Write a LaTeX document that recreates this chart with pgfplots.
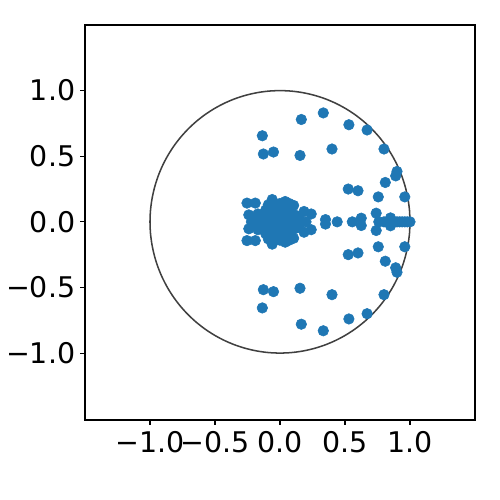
\documentclass[border=0pt]{standalone}
\usepackage{fontspec}
\setmainfont{DejaVu Sans}
\usepackage{pgfplots}
\pgfplotsset{compat=1.18}
\definecolor{mplblue}{HTML}{1F77B4}

\begin{document}
\begin{tikzpicture}
\begin{axis}[
  scale only axis, width=280.8pt, height=284.4pt,
  xmin=-1.5, xmax=1.5, ymin=-1.51, ymax=1.5,
  axis line style={line width=0.8pt},
  tick align=outside, tick pos=lower,
  major tick length=3.5pt,
  every tick/.style={black, line width=0.8pt},
  xtick={-1,-0.5,0,0.5,1}, ytick={-1,-0.5,0,0.5,1},
  xticklabels={−1.0,−0.5,0.0,0.5,1.0},
  yticklabels={−1.0,−0.5,0.0,0.5,1.0},
  ticklabel style={font=\fontsize{20.5}{24}\selectfont},
  xticklabel style={yshift=-1pt},
  clip=false,
]
% eigenvalues, upper half, real axis, lower half
\addplot[only marks, mark=*, mark size=3.8pt, mark options={solid, draw=mplblue, fill=mplblue}] table {
x y
0.333 0.83
0.164 0.78
0.53 0.74
0.67 0.70
-0.136 0.656
-0.128 0.517
-0.05 0.532
0.154 0.506
0.40 0.555
0.80 0.555
0.90 0.384
0.89 0.35
0.81 0.30
0.525 0.25
0.60 0.237
0.756 0.19
0.96 0.19
0.74 0.066
0.625 0.028
0.85 0.03
0.35 0.017
-0.254 0.143
-0.19 0.143
-0.06 0.17
0.04 0.155
0.0 0.14
0.07 0.14
0.105 0.125
-0.24 0.053
-0.17 0.06
-0.11 0.09
-0.04 0.10
0.03 0.10
0.08 0.08
0.12 0.05
0.185 0.079
0.24 0.06
-0.2 0.02
-0.13 0.03
-0.08 0.05
-0.02 0.04
0.02 0.06
0.06 0.03
0.10 0.02
0.15 0.02
-0.09 0.13
0.44 0
0.556 0
0.76 0
0.80 0
0.83 0
0.86 0
0.88 0
0.90 0
0.92 0
0.94 0
0.96 0
0.98 0
1.0 0
-0.22 0
-0.15 0
-0.10 0
-0.06 0
0.0 0
0.04 0
0.08 0
0.13 0
0.20 0
0.333 -0.83
0.164 -0.78
0.53 -0.74
0.67 -0.70
-0.136 -0.656
-0.128 -0.517
-0.05 -0.532
0.154 -0.506
0.40 -0.555
0.80 -0.555
0.90 -0.384
0.89 -0.35
0.81 -0.30
0.525 -0.25
0.60 -0.237
0.756 -0.19
0.96 -0.19
0.74 -0.066
0.625 -0.028
0.85 -0.03
0.35 -0.017
-0.254 -0.143
-0.19 -0.143
-0.06 -0.17
0.04 -0.155
0.0 -0.14
0.07 -0.14
0.105 -0.125
-0.24 -0.053
-0.17 -0.06
-0.11 -0.09
-0.04 -0.10
0.03 -0.10
0.08 -0.08
0.12 -0.05
0.185 -0.079
0.24 -0.06
-0.2 -0.02
-0.13 -0.03
-0.08 -0.05
-0.02 -0.04
0.02 -0.06
0.06 -0.03
0.10 -0.02
0.15 -0.02
-0.09 -0.13
};
% unit circle
\addplot[smooth, black!75, line width=1.1pt] table {
x y
1 0
0.9962 0.0872
0.9848 0.1736
0.9659 0.2588
0.9397 0.3420
0.9063 0.4226
0.8660 0.5
0.8192 0.5736
0.7660 0.6428
0.7071 0.7071
0.6428 0.7660
0.5736 0.8192
0.5 0.8660
0.4226 0.9063
0.3420 0.9397
0.2588 0.9659
0.1736 0.9848
0.0872 0.9962
0 1
-0.0872 0.9962
-0.1736 0.9848
-0.2588 0.9659
-0.3420 0.9397
-0.4226 0.9063
-0.5 0.8660
-0.5736 0.8192
-0.6428 0.7660
-0.7071 0.7071
-0.7660 0.6428
-0.8192 0.5736
-0.8660 0.5
-0.9063 0.4226
-0.9397 0.3420
-0.9659 0.2588
-0.9848 0.1736
-0.9962 0.0872
-1 0
-0.9962 -0.0872
-0.9848 -0.1736
-0.9659 -0.2588
-0.9397 -0.3420
-0.9063 -0.4226
-0.8660 -0.5
-0.8192 -0.5736
-0.7660 -0.6428
-0.7071 -0.7071
-0.6428 -0.7660
-0.5736 -0.8192
-0.5 -0.8660
-0.4226 -0.9063
-0.3420 -0.9397
-0.2588 -0.9659
-0.1736 -0.9848
-0.0872 -0.9962
0 -1
0.0872 -0.9962
0.1736 -0.9848
0.2588 -0.9659
0.3420 -0.9397
0.4226 -0.9063
0.5 -0.8660
0.5736 -0.8192
0.6428 -0.7660
0.7071 -0.7071
0.7660 -0.6428
0.8192 -0.5736
0.8660 -0.5
0.9063 -0.4226
0.9397 -0.3420
0.9659 -0.2588
0.9848 -0.1736
0.9962 -0.0872
1 0
};
\end{axis}
\path ([shift={(-61.2pt,-57.6pt)}]current axis.south west) rectangle ([shift={(18pt,18pt)}]current axis.north east);
\end{tikzpicture}
\end{document}
